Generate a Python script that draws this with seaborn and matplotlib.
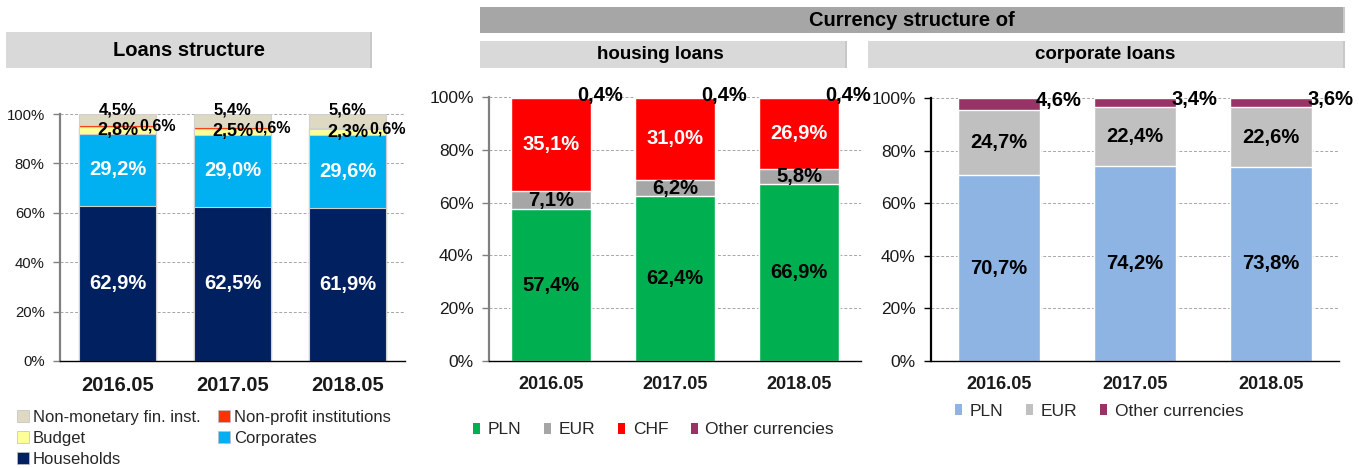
import numpy as np
import pandas as pd
import matplotlib
matplotlib.use("Agg")
import matplotlib.pyplot as plt
from matplotlib.patches import Rectangle, Patch
import seaborn as sns

# ---------------- data ----------------
periods = ["2016.05", "2017.05", "2018.05"]

# Loans structure (bottom -> top)
loan_series = ["Households", "Corporates", "Budget", "Non-profit institutions", "Non-monetary fin. inst."]
households = [62.9, 62.5, 61.9]
corporates = [29.2, 29.0, 29.6]
budget = [2.8, 2.5, 2.3]
non_profit = [0.6, 0.6, 0.6]
non_monetary = [4.5, 5.4, 5.6]

# Housing loans currency structure (bottom -> top)
housing_series = ["PLN", "EUR", "CHF", "Other currencies"]
housing_pln = [57.4, 62.4, 66.9]
housing_eur = [7.1, 6.2, 5.8]
housing_chf = [35.1, 31.0, 26.9]
housing_other = [0.4, 0.4, 0.4]

# Corporate loans currency structure (bottom -> top)
corp_series = ["PLN", "EUR", "Other currencies"]
corp_pln = [70.7, 74.2, 73.8]
corp_eur = [24.7, 22.4, 22.6]
corp_other = [4.6, 3.4, 3.6]

yticks = [0, 20, 40, 60, 80, 100]
ytick_labels = ["0%", "20%", "40%", "60%", "80%", "100%"]

# ---------------- style ----------------
sns.set_theme(style="white")
plt.rcParams["font.family"] = ["Liberation Sans", "DejaVu Sans"]

W, H = 1359, 468
fig = plt.figure(figsize=(W / 100, H / 100), dpi=100)


def fx(px):
    return px / W


def fy(py):
    return 1 - py / H


def add_axes(x0, x1, ytop, ybot):
    return fig.add_axes([fx(x0), fy(ybot), (x1 - x0) / W, (ybot - ytop) / H])


def fmt(v):
    return f"{v:.1f}".replace(".", ",") + "%"


def stacked(ax, layers, colors, width, edge, lw):
    cums = np.cumsum(np.array(layers), axis=0)
    # draw from top cumulative downwards so lower segments overlay
    for k in range(len(layers) - 1, -1, -1):
        df = pd.DataFrame({"period": periods, "value": cums[k]})
        sns.barplot(data=df, x="period", y="value", color=colors[k], ax=ax,
                    width=width, edgecolor=edge, linewidth=lw, saturation=1,
                    errorbar=None)
    return cums


def style_axes(ax, tick_fs, xlab_fs, spine_color):
    ax.set_xlim(-0.5, 2.5)
    ax.set_ylim(0, 100)
    ax.set_yticks(yticks)
    ax.set_yticklabels(ytick_labels, fontsize=tick_fs, color="#1a1a1a")
    ax.set_xlabel("")
    ax.set_ylabel("")
    ax.set_xticks(range(len(periods)))
    ax.set_xticklabels(periods, fontsize=xlab_fs, fontweight="bold", color="#1a1a1a")
    ax.set_xticks([-0.5, 0.5, 1.5, 2.5], minor=True)
    ax.tick_params(axis="x", which="major", length=0, pad=11)
    ax.tick_params(axis="x", which="minor", length=5, width=1, direction="out", color="black")
    ax.tick_params(axis="y", length=5, width=1, direction="out", color=spine_color, pad=6, left=True)
    for s in ["top", "right"]:
        ax.spines[s].set_visible(False)
    ax.spines["left"].set_color(spine_color)
    ax.spines["left"].set_linewidth(1.6)
    ax.spines["bottom"].set_color("black")
    ax.spines["bottom"].set_linewidth(1.0)
    ax.grid(False)
    for y in yticks[1:]:
        ax.axhline(y, color="#a6a6a6", linestyle=(0, (3, 2)), linewidth=0.7, zorder=0)
    ax.set_axisbelow(True)


# ---------------- left: loans structure ----------------
axL = add_axes(60, 405, 114, 361)
loan_layers = [households, corporates, budget, non_profit, non_monetary]
loan_colors = ["#002060", "#00b0f0", "#ffff99", "#ff3300", "#ddd9c3"]
cL = stacked(axL, loan_layers, loan_colors, 0.67, "#d0d0d0", 0.8)
style_axes(axL, 10.7, 14.5, "#808080")
for i in range(3):
    axL.text(i, households[i] / 2, fmt(households[i]), ha="center", va="center",
             color="white", fontsize=14.5, fontweight="bold")
    axL.text(i, cL[0][i] + corporates[i] / 2, fmt(corporates[i]), ha="center", va="center",
             color="white", fontsize=14.5, fontweight="bold")
    axL.text(i, cL[1][i] + budget[i] / 2, fmt(budget[i]), ha="center", va="center",
             color="black", fontsize=13, fontweight="bold")
    axL.text(i + 0.35, cL[2][i] + non_profit[i] / 2, fmt(non_profit[i]), ha="center", va="center",
             color="black", fontsize=11.5, fontweight="bold")
    axL.text(i, 101.8, fmt(non_monetary[i]), ha="center", va="center",
             color="black", fontsize=12, fontweight="bold", clip_on=False)

# ---------------- middle: housing loans ----------------
axM = add_axes(489, 861, 97, 361)
housing_layers = [housing_pln, housing_eur, housing_chf, housing_other]
housing_colors = ["#00b050", "#a6a6a6", "#ff0000", "#993366"]
cM = stacked(axM, housing_layers, housing_colors, 0.65, "white", 1.0)
style_axes(axM, 12.5, 13, "#808080")
for i in range(3):
    axM.text(i, housing_pln[i] / 2, fmt(housing_pln[i]), ha="center", va="center",
             color="black", fontsize=14.5, fontweight="bold")
    axM.text(i, cM[0][i] + housing_eur[i] / 2, fmt(housing_eur[i]), ha="center", va="center",
             color="black", fontsize=14.5, fontweight="bold")
    axM.text(i, cM[1][i] + housing_chf[i] / 2, fmt(housing_chf[i]), ha="center", va="center",
             color="white", fontsize=14.5, fontweight="bold")
    axM.text(i + 0.40, 100.6, fmt(housing_other[i]), ha="center", va="center",
             color="black", fontsize=14.5, fontweight="bold", clip_on=False)

# ---------------- right: corporate loans ----------------
axR = add_axes(931, 1339, 98, 361)
corp_layers = [corp_pln, corp_eur, corp_other]
corp_colors = ["#8db4e2", "#c0c0c0", "#993366"]
cR = stacked(axR, corp_layers, corp_colors, 0.6, "white", 1.0)
style_axes(axR, 12.5, 13, "black")
for i in range(3):
    axR.text(i, corp_pln[i] / 2, fmt(corp_pln[i]), ha="center", va="center",
             color="black", fontsize=14.5, fontweight="bold")
    axR.text(i, cR[0][i] + corp_eur[i] / 2, fmt(corp_eur[i]), ha="center", va="center",
             color="black", fontsize=14.5, fontweight="bold")
    axR.text(i + 0.44, cR[1][i] + corp_other[i] / 2 + 1.2, fmt(corp_other[i]), ha="center", va="center",
             color="black", fontsize=14.5, fontweight="bold", clip_on=False)

# ---------------- header boxes ----------------
def header(x0, x1, y0, y1, color, text, cx, fs):
    fig.patches.append(Rectangle((fx(x0), fy(y1)), (x1 - x0) / W, (y1 - y0) / H,
                                 transform=fig.transFigure, facecolor=color,
                                 edgecolor="none", zorder=0))
    fig.patches.append(Rectangle((fx(x1 - 2), fy(y1)), 2 / W, (y1 - y0) / H,
                                 transform=fig.transFigure, facecolor="#c8c8c8",
                                 edgecolor="none", zorder=0))
    fig.text(fx(cx), fy((y0 + y1) / 2), text, ha="center", va="center",
             fontsize=fs, fontweight="bold", color="black")


header(6, 372, 32, 68, "#d9d9d9", "Loans structure", 189, 14.5)
header(480, 1345, 7, 33, "#a6a6a6", "Currency structure of", 912, 14.5)
header(480, 847, 41, 68, "#d9d9d9", "housing loans", 660, 13.5)
header(868, 1345, 41, 68, "#d9d9d9", "corporate loans", 1105, 13.5)

# ---------------- legends ----------------
order_idx = [4, 2, 0, 3, 1]
left_handles = [Patch(facecolor=loan_colors[k], edgecolor="#bfbfbf", linewidth=0.5) for k in order_idx]
left_labels = [loan_series[k] for k in order_idx]
fig.legend(left_handles, left_labels, ncol=2, loc="upper left",
           bbox_to_anchor=(fx(17), fy(410)), frameon=False, fontsize=12,
           handlelength=0.7, handleheight=0.7, handletextpad=0.25,
           columnspacing=1.05, labelspacing=0.36, borderpad=0, borderaxespad=0)

mid_handles = [Patch(facecolor=c, edgecolor="none") for c in housing_colors]
fig.legend(mid_handles, housing_series, ncol=4, loc="center left",
           bbox_to_anchor=(fx(473), fy(430)), frameon=False, fontsize=12.5,
           handlelength=0.4, handleheight=0.6, handletextpad=0.45,
           columnspacing=1.3, borderpad=0, borderaxespad=0)

right_handles = [Patch(facecolor=c, edgecolor="none") for c in corp_colors]
fig.legend(right_handles, corp_series, ncol=3, loc="center left",
           bbox_to_anchor=(fx(955), fy(411)), frameon=False, fontsize=12.5,
           handlelength=0.4, handleheight=0.6, handletextpad=0.45,
           columnspacing=1.3, borderpad=0, borderaxespad=0)

fig.savefig("out.png", dpi=100, facecolor="white")
